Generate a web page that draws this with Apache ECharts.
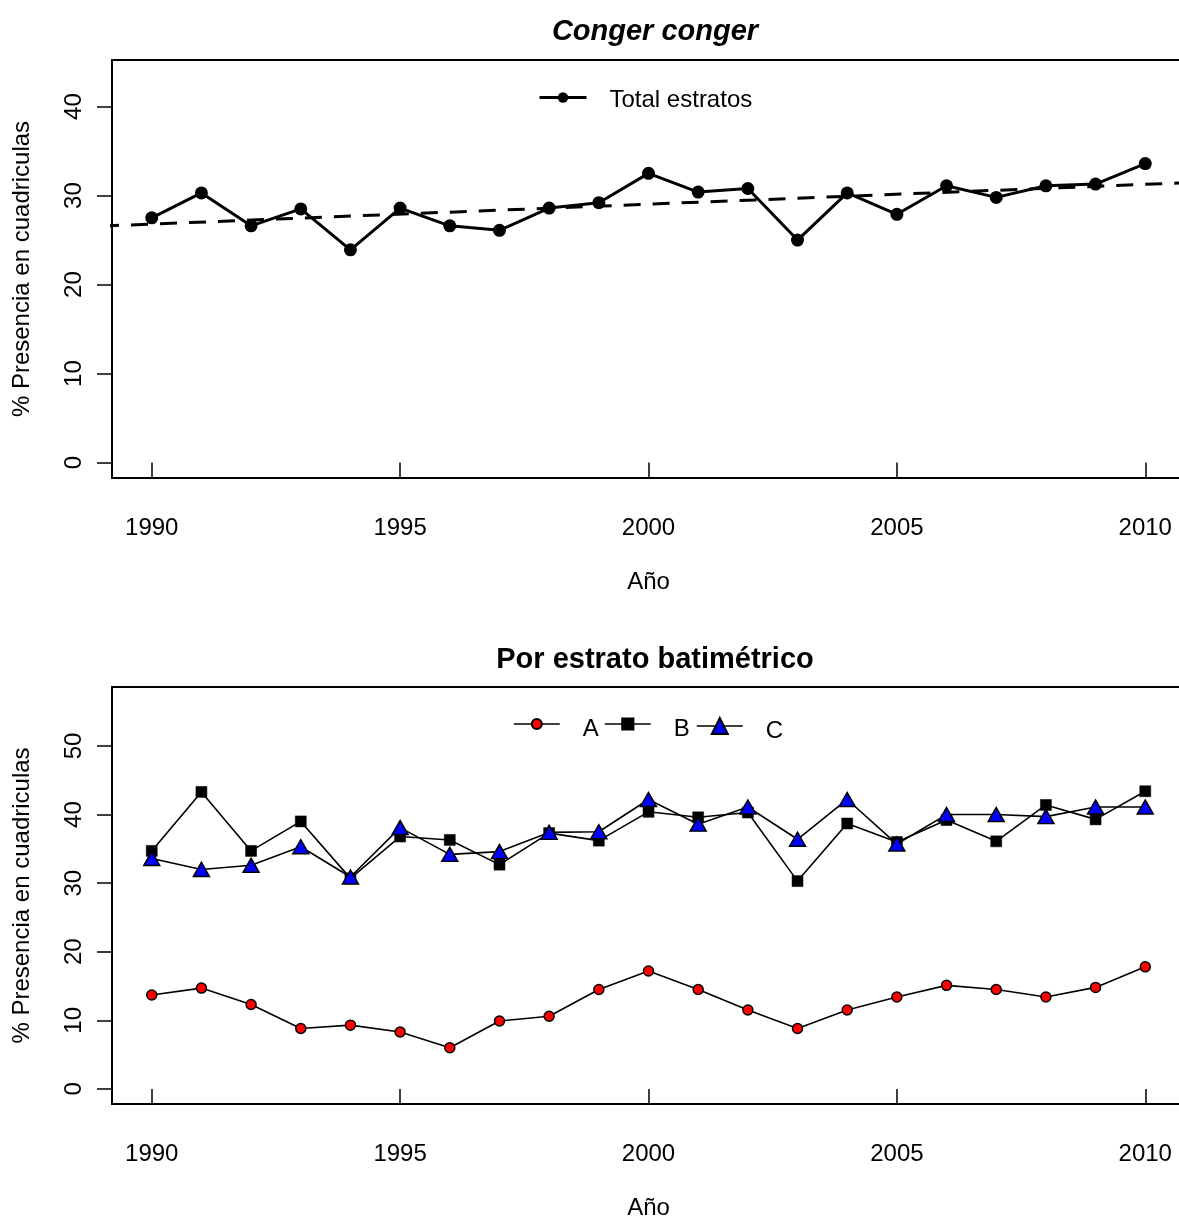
<!DOCTYPE html>
<html><head><meta charset="utf-8">
<script src="https://cdn.jsdelivr.net/npm/echarts@6/dist/echarts.min.js"></script>
<style>html,body{margin:0;padding:0;background:#fff}#c{width:1179px;height:1221px}</style>
</head><body><div id="c"></div>
<script>
// ---- data ----
const years = [1990,1991,1992,1993,1994,1995,1996,1997,1998,1999,2000,2001,2002,2003,2004,2005,2006,2007,2008,2009,2010];
const totalEstratos = [27.5,30.3,26.6,28.5,23.9,28.6,26.6,26.1,28.6,29.2,32.5,30.4,30.8,25.0,30.3,27.9,31.1,29.8,31.1,31.3,33.6];
const estratoA = [13.7,14.7,12.3,8.8,9.3,8.3,6.0,9.9,10.6,14.5,17.2,14.5,11.5,8.8,11.5,13.4,15.1,14.5,13.4,14.8,17.8];
const estratoB = [34.7,43.3,34.7,39.0,30.7,36.8,36.3,32.7,37.3,36.2,40.4,39.6,40.3,30.3,38.7,36.0,39.2,36.1,41.4,39.3,43.4];
const estratoC = [33.6,32.0,32.6,35.3,30.9,38.1,34.2,34.6,37.4,37.5,42.2,38.6,41.1,36.4,42.2,35.7,40.0,40.0,39.7,41.1,41.1];
const trendYears = [1989, 2011];
const xTicks = [1990,1995,2000,2005,2010];
const yTicksTop = [0,10,20,30,40];
const yTicksBottom = [0,10,20,30,40,50];
const titles = ['Conger conger', 'Por estrato batimétrico'];
const xName = 'Año';
const yName = '% Presencia en cuadriculas';

// linear regression of total (abline(lm))
function lm(xs, ys) {
  const n = xs.length;
  const mx = xs.reduce((a,b)=>a+b,0)/n, my = ys.reduce((a,b)=>a+b,0)/n;
  let sxy = 0, sxx = 0;
  for (let i=0;i<n;i++){ sxy += (xs[i]-mx)*(ys[i]-my); sxx += (xs[i]-mx)*(xs[i]-mx); }
  const b = sxy/sxx; return x => my + b*(x-mx);
}
const fit = lm(years, totalEstratos);
const trendData = trendYears.map(x => [x, fit(x)]);

const pair = arr => years.map((y,i)=>[y, arr[i]]);
const FONT = "'Liberation Sans', Arial, Helvetica, sans-serif";

function xAxisCfg(gi) {
  return {
    type: 'value', gridIndex: gi, min: 1989.2, max: 2010.8,
    name: xName, nameLocation: 'middle', nameGap: 92,
    nameTextStyle: {fontFamily: FONT, fontSize: 24, color: '#000'},
    axisLine: {show: false},
    axisTick: {show: true, length: 15, lineStyle: {color: '#000', width: 1.5}, customValues: xTicks},
    axisLabel: {show: true, margin: 38, fontFamily: FONT, fontSize: 24, color: '#000', customValues: xTicks, formatter: v => String(v)},
    splitLine: {show: false}
  };
}
function yAxisCfg(gi, min, max, ticks) {
  return {
    type: 'value', gridIndex: gi, min: min, max: max,
    name: yName, nameLocation: 'middle', nameGap: 78, nameRotate: 90,
    nameTextStyle: {fontFamily: FONT, fontSize: 24, color: '#000'},
    axisLine: {show: false},
    axisTick: {show: true, length: 15, lineStyle: {color: '#000', width: 1.5}, customValues: ticks},
    axisLabel: {show: true, rotate: 90, margin: 26, fontFamily: FONT, fontSize: 24, color: '#000', customValues: ticks, formatter: v => String(v)},
    splitLine: {show: false}
  };
}
function legendCfg(name, left, top, w, h, padTop, lw) {
  return {
    data: [name], left: left, top: top, padding: 0, itemWidth: w, itemHeight: h,
    selectedMode: false, orient: 'horizontal',
    lineStyle: {width: lw, color: '#000'},
    formatter: '{t|{name}}',
    textStyle: {fontFamily: FONT, fontSize: 24, color: '#000',
      rich: {t: {fontFamily: FONT, fontSize: 24, color: '#000', padding: [padTop, 0, 0, 18]}}}
  };
}

const chart = echarts.init(document.getElementById('c'), null, {renderer: 'canvas'});
chart.setOption({
  backgroundColor: '#fff',
  animation: false,
  title: [
    {text: titles[0], left: 650, textAlign: 'center', top: 12,
     textStyle: {fontFamily: FONT, fontSize: 29, fontWeight: 'bold', fontStyle: 'italic', color: '#000'}},
    {text: titles[1], left: 650, textAlign: 'center', top: 640,
     textStyle: {fontFamily: FONT, fontSize: 29, fontWeight: 'bold', color: '#000'}}
  ],
  grid: [
    {left: 112, top: 60, right: -6, height: 418, show: true, borderColor: '#000', borderWidth: 2,
     backgroundColor: 'transparent', outerBoundsMode: 'none', containLabel: false},
    {left: 112, top: 687, right: -6, height: 417, show: true, borderColor: '#000', borderWidth: 2,
     backgroundColor: 'transparent', outerBoundsMode: 'none', containLabel: false}
  ],
  xAxis: [xAxisCfg(0), xAxisCfg(1)],
  yAxis: [yAxisCfg(0, -1.74, 45.24, yTicksTop), yAxisCfg(1, -2.2, 58.6, yTicksBottom)],
  legend: [
    legendCfg('Total estratos', 538, 88, 47, 13, 5, 3),
    legendCfg('A', 513, 717, 46, 12.5, 10, 1.6),
    legendCfg('B', 604, 717, 46, 14, 10, 1.6),
    legendCfg('C', 696, 717, 46, 20, 10, 1.6)
  ],
  series: [
    {name: 'tendencia', type: 'line', xAxisIndex: 0, yAxisIndex: 0, data: trendData, clip: false,
     symbol: 'none', lineStyle: {color: '#000', width: 3, type: [17, 12]}, z: 2, silent: true},
    {name: 'Total estratos', type: 'line', xAxisIndex: 0, yAxisIndex: 0, data: pair(totalEstratos),
     symbol: 'circle', symbolSize: 13, lineStyle: {color: '#000', width: 3}, itemStyle: {color: '#000'}, z: 3},
    {name: 'A', type: 'line', xAxisIndex: 1, yAxisIndex: 1, data: pair(estratoA),
     symbol: 'circle', symbolSize: 10, lineStyle: {color: '#000', width: 1.6},
     itemStyle: {color: '#ff0000', borderColor: '#000', borderWidth: 1.5}, z: 3},
    {name: 'B', type: 'line', xAxisIndex: 1, yAxisIndex: 1, data: pair(estratoB),
     symbol: 'rect', symbolSize: 11, lineStyle: {color: '#000', width: 1.6},
     itemStyle: {color: '#000', borderColor: '#000', borderWidth: 0.5}, z: 3},
    {name: 'C', type: 'line', xAxisIndex: 1, yAxisIndex: 1, data: pair(estratoC),
     symbol: 'triangle', symbolSize: [16, 14], lineStyle: {color: '#000', width: 1.6},
     itemStyle: {color: '#0000ff', borderColor: '#000', borderWidth: 1.5}, z: 4}
  ]
});
</script></body></html>
